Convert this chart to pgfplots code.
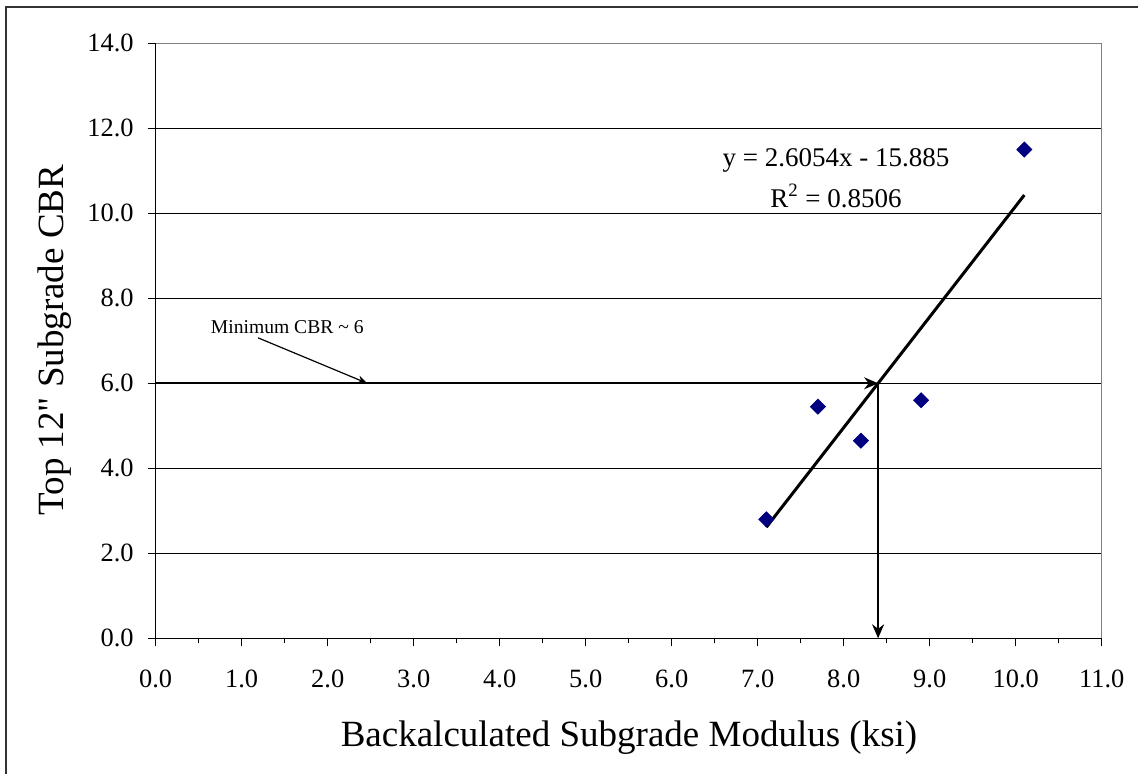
\documentclass[border=0pt]{standalone}
\usepackage{fontspec}
\setmainfont{Liberation Serif}[Ligatures=TeXOff]
\usepackage{pgfplots}
\pgfplotsset{compat=1.18}
\usetikzlibrary{arrows.meta}

\definecolor{navy}{RGB}{0,0,128}

\begin{document}
\begin{tikzpicture}
\begin{axis}[
    at={(0,0)}, anchor=south west,
    scale only axis,
    width=473pt, height=297.5pt,
    xmin=0, xmax=11, ymin=0, ymax=14,
    axis x line*=bottom, axis y line*=left,
    axis line style={black, line width=0.6pt},
    xtick={0,1,...,11}, minor xtick={0.5,1.5,...,10.5},
    ytick={0,2,...,14},
    tick align=outside,
    major tick length=4pt, minor tick length=2.5pt,
    tick style={black, line width=0.6pt},
    ymajorgrids, major grid style={black, line width=0.5pt},
    xticklabel style={/pgf/number format/.cd, fixed, fixed zerofill, precision=1},
    yticklabel style={/pgf/number format/.cd, fixed, fixed zerofill, precision=1},
    xticklabel shift=8.5pt,
    yticklabel shift=3.5pt,
    /pgf/number format/assume math mode=true,
    ticklabel style={font=\fontsize{13.2}{15}\selectfont},
    xlabel={Backalculated Subgrade Modulus (ksi)},
    ylabel={Top 12" Subgrade CBR},
    every axis x label/.style={at={(axis description cs:0.5003,-0.1676)}, anchor=center,
        font=\fontsize{18.5}{22}\selectfont},
    every axis y label/.style={at={(axis description cs:-0.1064,0.501)}, anchor=center, rotate=90,
        font=\fontsize{18.5}{22}\selectfont},
    clip=false,
]
% top/right box in grey
\draw[gray, line width=0.6pt] (axis cs:0,14) -- (axis cs:11,14) -- (axis cs:11,0);

% trendline
\addplot[black, line width=1.5pt] coordinates {(7.1,2.613) (10.1,10.429)};

% data
\addplot[only marks, mark=square*, mark size=2.65pt,
    mark options={rotate=45, fill=navy, draw=navy}] coordinates {
    (7.1,2.8)
    (7.7,5.45)
    (8.2,4.65)
    (8.9,5.6)
    (10.1,11.5)
};

% reading arrows
\draw[black, line width=1pt, -{Stealth[length=7pt,width=6pt]}] (axis cs:0,6) -- (axis cs:8.4,6);
\draw[black, line width=1pt, -{Stealth[length=7pt,width=6pt]}] (axis cs:8.4,6) -- (axis cs:8.4,0);

% annotation
\node[font=\fontsize{9.8}{12}\selectfont] at (axis cs:1.53,7.33) {Minimum CBR \textasciitilde{} 6};
\draw[black, line width=0.6pt, -{Stealth[length=5pt,width=4pt]}] (axis cs:1.19,7.07) -- (axis cs:2.46,6.0);

% equation
\node[font=\fontsize{13.5}{16}\selectfont] at (axis cs:7.91,11.25) {y = 2.6054x - 15.885};
\node[font=\fontsize{13.5}{16}\selectfont] at (axis cs:7.91,10.41) {R\textsuperscript{2} = 0.8506};
\end{axis}
% outer frame (left and top edges only visible)
\draw[black!80, line width=1pt] (-74.85pt,-67.85pt) -- (-74.85pt,315.65pt) -- (491.15pt,315.65pt);
\pgfresetboundingbox
\path[use as bounding box] (-77.85pt,-67.85pt) rectangle (491.15pt,319.15pt);
\end{tikzpicture}
\end{document}
